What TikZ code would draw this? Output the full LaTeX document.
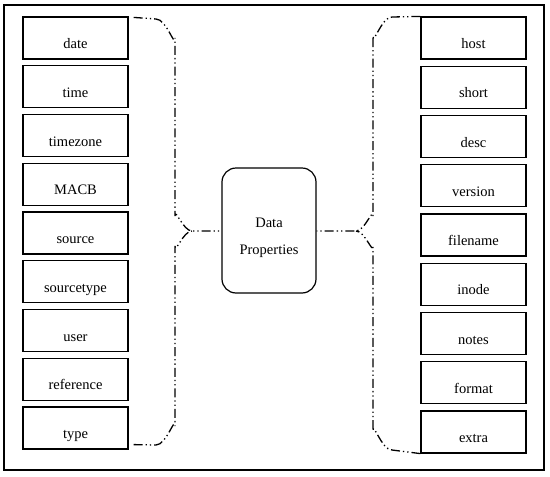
\documentclass[tikz,border=0pt]{standalone}
\usepackage{fontspec}
\setmainfont{Liberation Serif}
\usetikzlibrary{calc}
\begin{document}
\begin{tikzpicture}[x=1pt,y=-1pt,
  propbox/.style={draw,line width=1.2pt,minimum width=105pt,minimum height=42pt,inner sep=0pt,font=\fontsize{14.5}{16}\selectfont,text height=21pt,text depth=0pt},
  centerbox/.style={draw,line width=1.2pt,rounded corners=14pt,minimum width=94pt,minimum height=125pt},
  centertext/.style={yshift=-7pt,align=center,font=\fontsize{14.5}{27}\selectfont},
  ddot/.style={line width=1.3pt,dash pattern=on 9pt off 3pt on 1.3pt off 3pt on 1.3pt off 3pt}]
\useasboundingbox (0,0) rectangle (550,477);
\draw[line width=1.3pt] (4,5) rectangle (544,470);
% left column
\foreach \n [count=\i from 0] in {date,time,timezone,MACB,source,sourcetype,user,reference,type}
  \node[propbox] (L\i) at (75.5,{38+\i*48.75}) {\n};
% right column
\foreach \n [count=\i from 0] in {host,short,desc,version,filename,inode,notes,format,extra}
  \node[propbox] (R\i) at (473.5,{38+\i*49.25}) {\n};
\node[centerbox,label={[centertext]center:Data\\Properties}] (dp) at (269,230.5) {};
% left brace
\coordinate (lm) at (192,231);
\draw[ddot] ($(L0.north east)+(5,1)$) -- (156,19) to[out=0,in=-90] (175,38) -- (175,216) to[out=90,in=180] (lm) -- (dp.west |- lm);
\draw[ddot] ($(L8.south east)+(5,-5)$) -- (156,445) to[out=0,in=90] (175,426) -- (175,246) to[out=-90,in=180] (lm);
% right brace
\coordinate (rm) at (356,231);
\draw[ddot] (R0.north west) -- (392,17) to[out=180,in=-90] (373,36) -- (373,216) to[out=90,in=0] (rm) -- (dp.east |- rm);
\draw[ddot] (R8.south west) -- (392,450) to[out=180,in=90] (373,431) -- (373,246) to[out=-90,in=0] (rm);
\end{tikzpicture}
\end{document}
